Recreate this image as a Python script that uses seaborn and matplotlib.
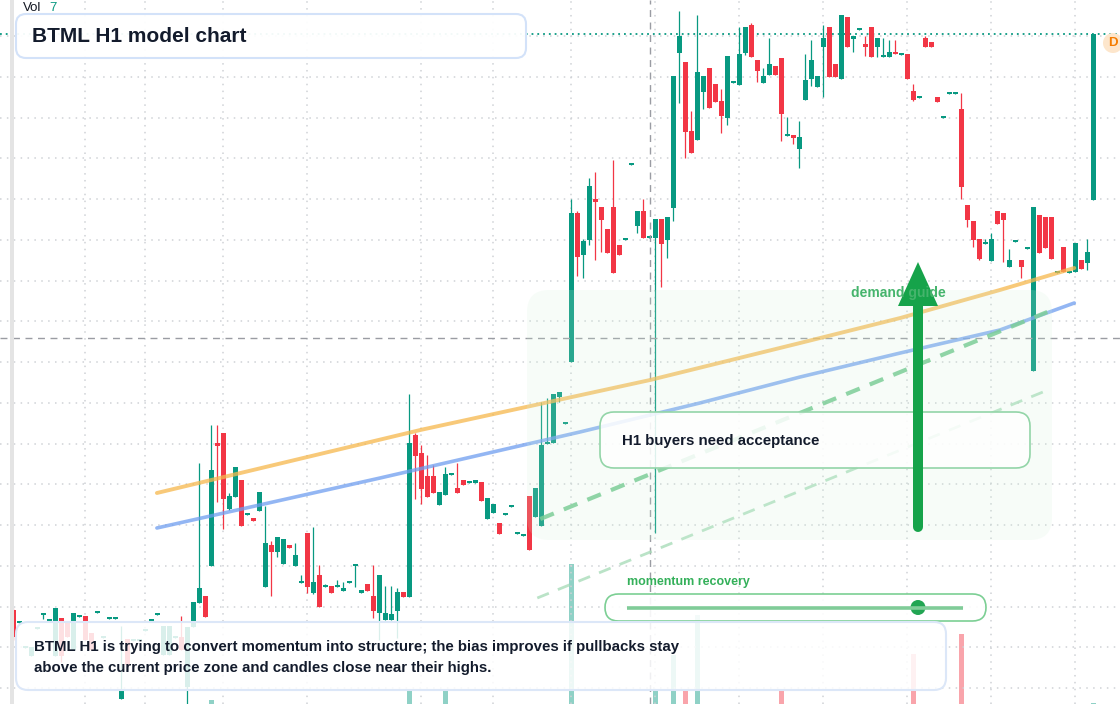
import numpy as np
import pandas as pd
import matplotlib
matplotlib.use('Agg')
import matplotlib.pyplot as plt
import seaborn as sns
from matplotlib.patches import FancyBboxPatch, Polygon, Circle, Rectangle

sns.set_theme(style='white')
plt.rcParams['font.family'] = ['Liberation Sans', 'DejaVu Sans']

# hourly candles, price in chart units (no price scale shown on the picture)
opens = [390, 377, 352, 344, 371, 385, 379, 344, 382, 377,
         350, 383, 384, 367, 387, 362, 381, 381, 301, 361,
         359, 359, 369, 379, 385, 345, 345, 362, 363, 313,
         373, 397, 404, 434, 557, 567, 491, 503, 520, 485,
         482, 489, 413, 455, 448, 436, 455, 434, 417, 467,
         407, 425, 413, 414, 413, 409, 417, 434, 407, 416,
         404, 387, 380, 380, 389, 408, 403, 565, 547, 524,
         524, 495, 505, 525, 512, 520, 517, 517, 518, 481,
         487, 477, 485, 493, 466, 464, 504, 483, 474, 556,
         557, 603, 576, 638, 787, 745, 760, 801, 793, 771,
         793, 755, 760, 835, 774, 789, 762, 762, 781, 760,
         792, 947, 938, 869, 860, 908, 932, 916, 899, 882,
         917, 915, 947, 975, 940, 917, 925, 934, 942, 864,
         865, 851, 900, 921, 913, 953, 973, 936, 921, 983,
         961, 970, 956, 973, 953, 943, 943, 948, 945, 946,
         909, 902, 962, 958, 903, 882, 906, 906, 891, 795,
         779, 761, 756, 739, 789, 787, 733, 758, 740, 751,
         629, 785, 783, 783, 727, 753, 727, 728, 740, 737,
         800]
closes = [363, 379, 354, 353, 373, 386, 381, 392, 344, 363,
          387, 385, 360, 350, 389, 364, 383, 383, 310, 335,
          361, 361, 371, 381, 387, 374, 374, 364, 350, 373,
          398, 412, 383, 530, 554, 501, 504, 533, 474, 487,
          479, 508, 457, 448, 463, 461, 452, 445, 419, 413,
          418, 393, 415, 407, 415, 412, 419, 436, 410, 409,
          389, 425, 387, 386, 408, 403, 557, 544, 511, 503,
          507, 508, 526, 527, 507, 515, 519, 520, 499, 502,
          496, 466, 487, 495, 468, 466, 450, 512, 555, 558,
          606, 608, 578, 787, 743, 759, 814, 798, 780, 747,
          727, 745, 762, 837, 789, 762, 764, 781, 756, 783,
          924, 964, 868, 847, 928, 924, 892, 898, 884, 944,
          919, 946, 973, 943, 929, 924, 936, 925, 886, 866,
          862, 863, 920, 940, 924, 962, 923, 923, 985, 953,
          964, 972, 953, 943, 962, 945, 948, 946, 947, 921,
          900, 904, 953, 953, 898, 884, 908, 908, 813, 780,
          760, 741, 758, 761, 776, 780, 740, 760, 733, 753,
          793, 747, 752, 741, 729, 728, 729, 757, 731, 748,
          966]
highs = [392, 379, 354, 353, 373, 386, 381, 392, 382, 377,
         387, 385, 384, 367, 389, 364, 383, 383, 374, 361,
         361, 361, 371, 381, 387, 374, 374, 364, 384, 373,
         398, 537, 404, 575, 575, 567, 507, 533, 520, 487,
         482, 508, 494, 459, 463, 461, 455, 457, 425, 467,
         473, 435, 416, 414, 420, 418, 419, 436, 410, 416,
         435, 425, 414, 414, 412, 408, 606, 567, 555, 545,
         535, 508, 533, 527, 537, 520, 519, 520, 518, 502,
         496, 477, 487, 495, 468, 466, 504, 512, 598, 602,
         606, 608, 578, 801, 789, 761, 822, 828, 793, 771,
         840, 755, 762, 837, 789, 801, 764, 781, 781, 783,
         924, 989, 938, 889, 985, 924, 932, 916, 911, 944,
         919, 973, 973, 977, 940, 932, 962, 934, 942, 883,
         865, 879, 946, 960, 924, 975, 973, 936, 985, 983,
         964, 972, 964, 973, 962, 962, 960, 960, 947, 946,
         916, 904, 964, 958, 903, 884, 908, 908, 907, 795,
         779, 761, 761, 767, 789, 787, 751, 760, 740, 753,
         793, 785, 783, 783, 729, 753, 729, 757, 740, 761,
         966]
lows = [360, 377, 352, 344, 371, 381, 379, 344, 338, 363,
        350, 383, 360, 350, 387, 362, 381, 381, 301, 335,
        359, 359, 369, 379, 385, 345, 345, 362, 350, 296,
        373, 397, 383, 434, 498, 471, 490, 503, 474, 485,
        479, 489, 413, 404, 443, 436, 452, 434, 417, 407,
        406, 393, 413, 407, 413, 409, 417, 413, 407, 409,
        382, 360, 380, 380, 362, 403, 403, 501, 496, 503,
        507, 495, 505, 525, 507, 515, 517, 517, 499, 481,
        487, 466, 485, 493, 466, 464, 450, 483, 474, 556,
        557, 598, 576, 638, 724, 722, 755, 740, 748, 747,
        727, 745, 760, 835, 767, 762, 762, 467, 713, 742,
        779, 897, 842, 847, 860, 891, 892, 898, 867, 875,
        917, 915, 945, 943, 918, 917, 925, 925, 859, 864,
        856, 832, 900, 914, 913, 903, 923, 923, 921, 953,
        948, 970, 944, 943, 943, 943, 943, 946, 945, 921,
        899, 902, 953, 953, 898, 882, 906, 906, 801, 773,
        753, 740, 756, 739, 776, 738, 733, 758, 722, 751,
        629, 747, 752, 741, 727, 728, 727, 728, 731, 730,
        800]
# volume, most bars stay below the visible bottom edge
volumes = [30, 30, 30, 30, 30, 30, 30, 30, 30, 30,
           30, 30, 30, 30, 30, 30, 30, 30, 30, 30,
           30, 30, 30, 30, 30, 30, 30, 30, 30, 30,
           30, 30, 30, 60, 30, 30, 30, 30, 30, 30,
           30, 30, 30, 30, 30, 30, 30, 30, 30, 30,
           30, 30, 30, 30, 30, 30, 30, 30, 30, 30,
           30, 30, 30, 30, 30, 30, 70, 30, 30, 30,
           30, 30, 70, 30, 30, 30, 30, 30, 30, 30,
           30, 30, 30, 30, 30, 30, 30, 30, 30, 30,
           30, 30, 30, 196, 30, 30, 30, 30, 30, 30,
           30, 30, 30, 30, 30, 30, 30, 71, 30, 30,
           105, 30, 71, 30, 145, 30, 30, 30, 30, 30,
           30, 30, 30, 30, 30, 30, 30, 30, 71, 30,
           30, 30, 30, 30, 30, 30, 30, 30, 30, 30,
           30, 30, 30, 30, 30, 30, 30, 30, 30, 30,
           106, 30, 30, 30, 30, 30, 30, 30, 126, 30,
           30, 30, 30, 30, 30, 30, 30, 30, 30, 30,
           30, 30, 30, 30, 30, 30, 30, 30, 30, 30,
           57]

# moving-average style guides (bar index, price)
ma_orange_idx = [23.9, 67.8, 106.1, 131.1, 147.8, 164.4, 176.8]
ma_orange_val = [507, 570, 620, 657, 682, 710, 732]
ma_blue_idx = [23.9, 61.1, 94.4, 114.4, 131.1, 147.8, 164.4, 176.8]
ma_blue_val = [472, 522, 568, 597, 623, 647, 670, 697]
trend_a_idx = [87.8, 172.3]
trend_a_val = [481, 688]
trend_b_idx = [87.3, 172.4]
trend_b_val = [402, 610]

day_breaks = [12, 22, 35, 49, 68, 80, 93, 107, 121, 135, 149, 163, 177]
cross_idx = 106.1
cross_price = 662

up_col = '#089981'
dn_col = '#f23645'

df = pd.DataFrame({'o': opens, 'h': highs, 'l': lows, 'c': closes, 'v': volumes})
df['i'] = np.arange(len(df))
df['col'] = np.where(df.c >= df.o, up_col, dn_col)

fig = plt.figure(figsize=(11.2, 7.04), dpi=100)

# volume pane underneath
vax = fig.add_axes([0, 0, 1, 1])
vax.set_facecolor('white')
vax.bar(df.i, df.v, width=0.82, color=df.col, alpha=0.45, lw=0)
vax.set_xlim(-2.25, 184.42)
vax.set_ylim(56, 760)
vax.axis('off')

ax = fig.add_axes([0, 0, 1, 1])
ax.patch.set_visible(False)
ax.set_xlim(-2.25, 184.42)
ax.set_ylim(296, 1000)
for s in ax.spines.values():
    s.set_visible(False)
ax.set_xticks([])
ax.set_yticks([])

grid_kw = dict(color='#cfd2d6', lw=1.1, ls=(0, (1, 3.5)), zorder=0)
for d in day_breaks:
    ax.axvline(d, **grid_kw)
for g in np.linspace(312, 964, 17):
    ax.axhline(g, **grid_kw)

ax.axhline(closes[-1], color=up_col, lw=1.3, ls=(0, (1, 2.2)), zorder=2)

ax.vlines(df.i, df.l, df.h, colors=df.col, lw=0.9, zorder=3)
body = (df.c - df.o).where((df.c - df.o).abs() >= 2, 2)
ax.bar(df.i, body, bottom=df.o, width=0.84, color=df.col, lw=0, zorder=4)

ax.axvline(cross_idx, color='#9a9ca3', lw=1, ls=(0, (5, 4)), zorder=5)
ax.axhline(cross_price, color='#9a9ca3', lw=1, ls=(0, (5, 4)), zorder=5)

sns.lineplot(x=ma_orange_idx, y=ma_orange_val, ax=ax, color='#f6b84c', lw=2.8,
             alpha=0.75, zorder=6)
sns.lineplot(x=ma_blue_idx, y=ma_blue_val, ax=ax, color='#6f9ef0', lw=2.6,
             alpha=0.75, zorder=6)
sns.lineplot(x=trend_a_idx, y=trend_a_val, ax=ax, color='#6cc78b', lw=3,
             linestyle=(0, (3.5, 2.6)), alpha=0.85, zorder=6)
sns.lineplot(x=trend_b_idx, y=trend_b_val, ax=ax, color='#a9dcb9', lw=2,
             linestyle=(0, (4.5, 3.5)), alpha=0.8, zorder=6)

# annotation layer in pixel units
ov = fig.add_axes([0, 0, 1, 1])
ov.set_xlim(0, 1120)
ov.set_ylim(704, 0)
ov.axis('off')
ov.patch.set_alpha(0)

ov.add_patch(Rectangle((10, 0), 4, 704, fc='#e4e4e4', ec='none'))

ov.add_patch(FancyBboxPatch((527, 290), 525, 250, boxstyle='round,pad=0,rounding_size=22',
                            fc=(0.82, 0.95, 0.85, 0.17), ec='none'))

ov.text(851, 293, 'demand guide', fontsize=10, fontweight='bold', color='#45b46c',
        ha='left', va='center')
ov.plot([918, 918], [527, 302], color='#16a34a', lw=7.2, solid_capstyle='round')
ov.add_patch(Polygon([[898, 306], [938, 306], [918, 262]], closed=True, fc='#16a34a', ec='none'))

ov.add_patch(FancyBboxPatch((600, 412), 430, 56, boxstyle='round,pad=0,rounding_size=14',
                            fc=(1, 1, 1, 0.85), ec='#93d5a8', lw=1.2))
ov.text(622, 441, 'H1 buyers need acceptance', fontsize=10.8, fontweight='bold',
        color='#131b2c', ha='left', va='center')

ov.text(627, 582, 'momentum recovery', fontsize=9, fontweight='bold', color='#34b05a',
        ha='left', va='center')
ov.add_patch(FancyBboxPatch((605, 594), 381, 27, boxstyle='round,pad=0,rounding_size=13.5',
                            fc=(1, 1, 1, 0.9), ec='#7ccf94', lw=1.2))
ov.plot([627, 963], [607.5, 607.5], color='#80cc98', lw=2.6, solid_capstyle='butt')
ov.add_patch(Circle((918, 607.5), 7.5, fc='#22a553', ec='none'))

ov.add_patch(FancyBboxPatch((16, 622), 930, 68, boxstyle='round,pad=0,rounding_size=12',
                            fc=(1, 1, 1, 0.85), ec='#dce7f8', lw=1.5))
ov.text(34, 647, 'BTML H1 is trying to convert momentum into structure; the bias improves if pullbacks stay',
        fontsize=10.8, fontweight='bold', color='#131b2c', ha='left', va='center')
ov.text(34, 668, 'above the current price zone and candles close near their highs.',
        fontsize=10.8, fontweight='bold', color='#131b2c', ha='left', va='center')

ov.add_patch(FancyBboxPatch((16, 14), 510, 44, boxstyle='round,pad=0,rounding_size=10',
                            fc=(1, 1, 1, 0.95), ec='#d3e2f9', lw=1.5))
ov.text(32, 36, 'BTML H1 model chart', fontsize=15, fontweight='bold', color='#131b2c',
        ha='left', va='center')

ov.text(23, 8, 'Vol', fontsize=9.5, color='#131722', ha='left', va='center')
ov.text(49, 8, '7', fontsize=9.5, color=up_col, ha='left', va='center')

ov.add_patch(Circle((1113, 43), 10, fc='#fde6cc', ec='none'))
ov.text(1113, 43, 'D', fontsize=9.5, fontweight='bold', color='#f57c00', ha='center', va='center')

fig.savefig('out.png', dpi=100)
